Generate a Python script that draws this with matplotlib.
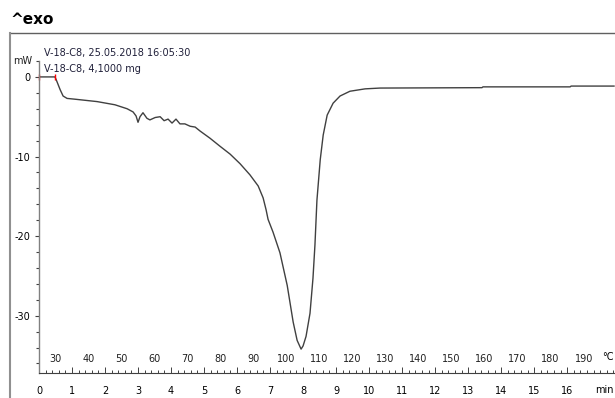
import numpy as np
import matplotlib.pyplot as plt
from matplotlib.lines import Line2D
from matplotlib.ticker import MultipleLocator

# DSC curve: time in min, heat flow in mW
time_min = [0.0, 0.485, 0.545, 0.64, 0.73, 0.85, 1.09, 1.76, 2.30, 2.67, 2.85, 2.94,
            3.00, 3.06, 3.15, 3.27, 3.36, 3.52, 3.67, 3.79, 3.91, 4.03, 4.15, 4.27,
            4.42, 4.58, 4.73, 4.88, 5.18, 5.48, 5.79, 6.09, 6.39, 6.64, 6.79, 6.88,
            6.94, 7.09, 7.30, 7.52, 7.70, 7.82, 7.94, 8.00, 8.09, 8.21, 8.30, 8.36,
            8.42, 8.52, 8.61, 8.73, 8.91, 9.12, 9.42, 9.88, 10.33, 13.42, 13.45,
            16.09, 16.12, 17.42]
heat_flow = [0.0, 0.0, -0.6, -1.6, -2.4, -2.7, -2.8, -3.1, -3.5, -4.0, -4.4, -4.9,
             -5.7, -5.0, -4.5, -5.2, -5.4, -5.1, -5.0, -5.5, -5.3, -5.8, -5.3, -5.9,
             -5.9, -6.2, -6.3, -6.8, -7.7, -8.7, -9.7, -10.9, -12.3, -13.7, -15.2, -16.7,
             -17.9, -19.5, -22.1, -26.2, -30.8, -33.1, -34.2, -33.8, -32.6, -29.7, -25.3, -21.1,
             -15.5, -10.4, -7.3, -4.8, -3.3, -2.4, -1.8, -1.5, -1.4, -1.35, -1.25,
             -1.25, -1.15, -1.15]

min_ticks = list(range(0, 17))
temp_labels = [30, 40, 50, 60, 70, 80, 90, 100, 110, 120, 130, 140, 150, 160, 170, 180, 190]
y_major = [0, -10, -20, -30]

W, H = 615, 398
fig = plt.figure(figsize=(W / 100, H / 100), dpi=100)
ax = fig.add_axes([39 / W, (H - 373) / H, (W - 39) / W, (373 - 61) / H])

ax.plot(time_min, heat_flow, color='#404040', lw=1.0)

ax.set_xlim(0, 17.45)
ax.set_ylim(-37.2, 2.0)

for s in ['top', 'right']:
    ax.spines[s].set_visible(False)
ax.spines['left'].set_color('#808080')
ax.spines['bottom'].set_color('#404040')
ax.spines['left'].set_linewidth(1.0)
ax.spines['bottom'].set_linewidth(0.8)

# y axis
ax.set_yticks(y_major)
ax.set_yticklabels([str(v) for v in y_major])
ax.yaxis.set_minor_locator(MultipleLocator(2))
ax.tick_params(axis='y', which='major', direction='out', length=3, width=0.8,
               color='#404040', labelsize=7, pad=3)
ax.tick_params(axis='y', which='minor', direction='out', length=2, width=0.8, color='#404040')
ax.text(-0.012, 2.0, 'mW', transform=ax.get_yaxis_transform(), ha='right', va='center',
        fontsize=7, color='#202020')
ax.plot([0, 0.485], [0, 0], ls='none', marker='|', color='red', ms=5, mew=1, clip_on=False)

# x axis: minutes below, temperature above
ax.set_xticks(min_ticks)
ax.set_xticklabels([str(v) for v in min_ticks])
ax.xaxis.set_minor_locator(MultipleLocator(0.2))
ax.tick_params(axis='x', which='major', direction='in', length=4, width=0.7,
               color='#404040', labelsize=7, pad=9)
ax.tick_params(axis='x', which='minor', direction='in', length=2.5, width=0.7, color='#404040')
for t in temp_labels:
    ax.text((t - 25) / 10, 0.045, str(t), transform=ax.get_xaxis_transform(),
            ha='center', va='center', fontsize=7, color='#202020')
fig.text(0.998, 1 - 357 / H, '°C', ha='right', va='center', fontsize=7)
fig.text(0.998, 1 - 390 / H, 'min', ha='right', va='center', fontsize=7)

# header and frame
fig.text(10 / W, 1 - 19 / H, '^exo', fontsize=11, fontweight='bold', ha='left', va='center')
fig.add_artist(Line2D([10 / W, 1], [1 - 33 / H, 1 - 33 / H], color='#606060', lw=1.0))
fig.add_artist(Line2D([10 / W, 10 / W], [0, 1 - 33 / H], color='#909090', lw=1.5))
fig.text(44 / W, 1 - 53 / H, 'V-18-C8, 25.05.2018 16:05:30', fontsize=7, color='#20203a',
         ha='left', va='center')
fig.text(44 / W, 1 - 69 / H, 'V-18-C8, 4,1000 mg', fontsize=7, color='#20203a',
         ha='left', va='center')

fig.savefig('out.png', dpi=100)
